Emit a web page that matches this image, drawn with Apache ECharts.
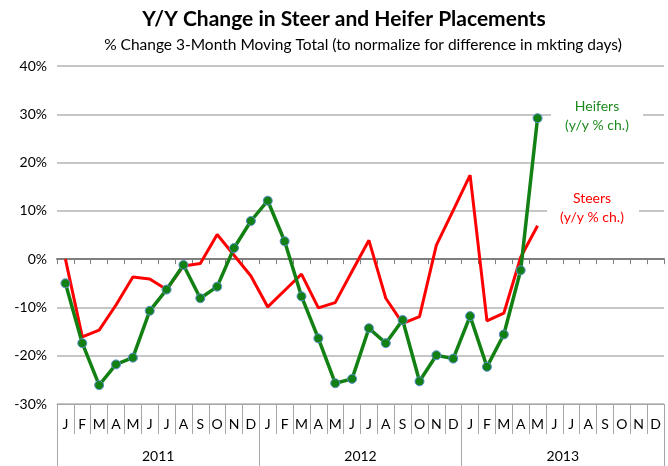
<!DOCTYPE html>
<html>
<head>
<meta charset="utf-8">
<script src="https://cdn.jsdelivr.net/npm/echarts@6/dist/echarts.min.js"></script>
<style>
  html, body { margin: 0; padding: 0; background: #fff; }
  #myChart { width: 668px; height: 466px; }
</style>
</head>
<body>
<div id="myChart"></div>
<script>
// months Jan 2011 .. Dec 2013
var months = ['J','F','M','A','M','J','J','A','S','O','N','D',
              'J','F','M','A','M','J','J','A','S','O','N','D',
              'J','F','M','A','M','J','J','A','S','O','N','D']
var years = ['2011', '2012', '2013']
var yTicks = { min: -30, max: 40, interval: 10 }

// y/y % change, Jan 2011 .. May 2013
var heifers = [-5.0, -17.4, -26.1, -21.8, -20.4, -10.7, -6.3, -1.2, -8.1, -5.7, 2.3, 7.9,
               12.1, 3.7, -7.7, -16.4, -25.7, -24.8, -14.3, -17.4, -12.6, -25.3, -19.9, -20.6,
               -11.8, -22.3, -15.6, -2.3, 29.2]
var steers = [0.0, -16.1, -14.7, -9.5, -3.7, -4.1, -6.3, -1.4, -0.9, 5.1, 0.8, -3.5,
              -9.9, -6.5, -3.1, -10.1, -9.0, -2.5, 3.9, -8.1, -13.3, -11.9, 2.9, 10.1,
              17.4, -12.8, -11.2, 0.4, 6.9]

var font = 'Lato, "Open Sans", sans-serif'
var myChart = echarts.init(document.getElementById('myChart'))

myChart.setOption({
  animation: false,
  textStyle: { fontFamily: font },
  title: [
    {
      text: 'Y/Y Change in Steer and Heifer Placements',
      left: 339, top: 4, textAlign: 'center',
      textStyle: { fontSize: 21, fontWeight: 'bold', color: '#000', fontFamily: font }
    },
    {
      text: '% Change 3-Month Moving Total (to normalize for difference in mkting days)',
      left: 358, top: 32, textAlign: 'center',
      textStyle: { fontSize: 15.5, fontWeight: 'normal', color: '#000', fontFamily: font }
    }
  ],
  grid: [
    { left: 57, right: 4, top: 66, height: 338 },
    { left: 57, right: 4, top: 404, height: 62 }
  ],
  xAxis: [
    {
      // the line at 0% with small ticks
      type: 'category', gridIndex: 0, data: months, position: 'top',
      axisLine: { onZero: true, lineStyle: { color: '#7f7f7f', width: 2 } },
      axisTick: { show: true, inside: true, length: 5, interval: 0, lineStyle: { color: '#7f7f7f' } },
      axisLabel: { show: false },
      splitLine: { show: false }
    },
    {
      // month labels under the plot
      type: 'category', gridIndex: 0, data: months, position: 'bottom',
      axisLine: { onZero: false, lineStyle: { color: '#a6a6a6', width: 1 } },
      axisTick: { show: true, length: 30, interval: 0, lineStyle: { color: '#a6a6a6' } },
      axisLabel: { interval: 0, margin: 13, fontSize: 14, color: '#000' },
      splitLine: { show: false }
    },
    {
      // year labels, separators drawn as split lines
      type: 'category', gridIndex: 1, data: years, position: 'top',
      axisLine: { show: false, onZero: false },
      axisTick: { show: false },
      axisLabel: { inside: true, margin: 45, fontSize: 14, color: '#000' },
      splitLine: { show: true, interval: 0, lineStyle: { color: '#a6a6a6', width: 1 } }
    }
  ],
  yAxis: [
    {
      type: 'value', gridIndex: 0,
      min: yTicks.min, max: yTicks.max, interval: yTicks.interval,
      axisLine: { show: false },
      axisTick: { show: false },
      axisLabel: { formatter: '{value}%', fontSize: 14, color: '#000', margin: 10 },
      splitLine: { lineStyle: { color: '#b3b3b3', width: 1.5 } }
    },
    {
      type: 'value', gridIndex: 1, min: 0, max: 1, show: false
    }
  ],
  graphic: [
    { type: 'rect', shape: { x: 551, y: 108, width: 92, height: 12 }, style: { fill: '#fff' }, z: 50 },
    {
      type: 'text', x: 597, y: 97, z: 51,
      style: {
        text: 'Heifers\n(y/y % ch.)', fill: '#1e8a1e', font: '14px ' + font,
        align: 'center', lineHeight: 19
      }
    },
    { type: 'rect', shape: { x: 547, y: 205, width: 92, height: 12 }, style: { fill: '#fff' }, z: 50 },
    {
      type: 'text', x: 592, y: 189, z: 51,
      style: {
        text: 'Steers\n(y/y % ch.)', fill: '#ff0000', font: '14px ' + font,
        align: 'center', lineHeight: 19
      }
    }
  ],
  series: [
    {
      name: 'Steers', type: 'line', xAxisIndex: 0, yAxisIndex: 0,
      data: steers, symbol: 'none',
      lineStyle: { color: '#ff0000', width: 3 },
      z: 3
    },
    {
      name: 'Heifers', type: 'line', xAxisIndex: 0, yAxisIndex: 0,
      data: heifers, symbol: 'circle', symbolSize: 9,
      lineStyle: { color: '#138013', width: 3.5 },
      itemStyle: { color: '#138013', borderColor: '#5b8fcf', borderWidth: 1 },
      z: 4
    }
  ]
})
</script>
</body>
</html>
